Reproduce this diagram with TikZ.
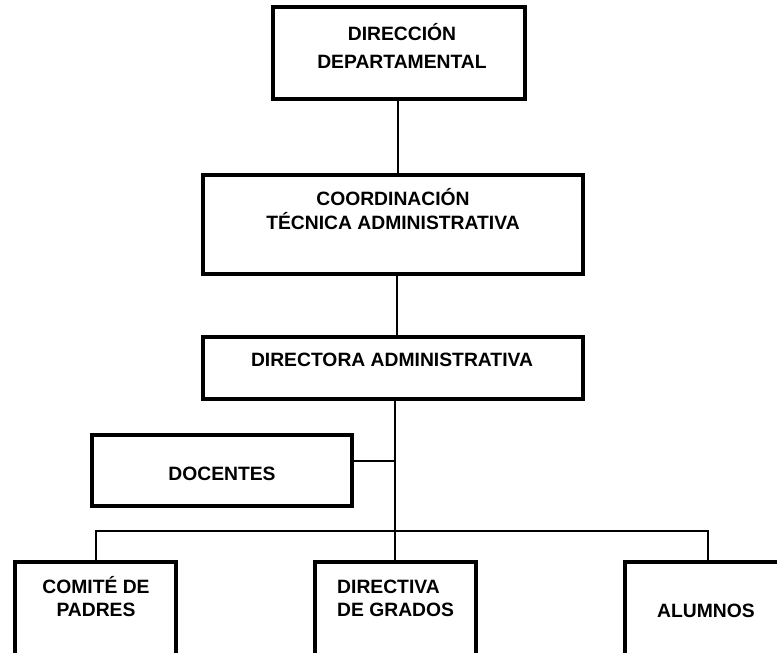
\documentclass[tikz,border=0pt]{standalone}
\usepackage{fontspec}
\setmainfont{Liberation Sans}
\begin{document}
\begin{tikzpicture}[x=1pt,y=-1pt,
  box/.style={draw=black, line width=3.1pt, fill=white, rectangle, inner sep=0pt, outer sep=0pt},
  conn/.style={draw=black, line width=2.5pt},
  lbl/.style={font=\fontsize{19.3}{23}\selectfont\bfseries, inner sep=0pt, anchor=base}]
\useasboundingbox (0,0) rectangle (777,653);
\fill[white] (0,0) rectangle (777,653);
\clip (0,0) rectangle (777,653);
% boxes
\node[box, minimum width=252pt, minimum height=92pt] (b1) at (399,53) {};
\node[box, minimum width=380pt, minimum height=99pt] (b2) at (393,224.5) {};
\node[box, minimum width=380pt, minimum height=62pt] (b3) at (393,368) {};
\node[box, minimum width=260pt, minimum height=71pt] (b4) at (222,470.5) {};
\node[box, minimum width=161pt, minimum height=140pt] (b6) at (95.5,632) {};
\node[box, minimum width=161pt, minimum height=140pt] (b5) at (395.5,632) {};
\node[box, minimum width=180pt, minimum height=140pt] (b7) at (715,632) {};
% texts
\node[lbl] (t1a) at (402,40) {DIRECCIÓN};
\node[lbl] (t1b) at (402,68) {DEPARTAMENTAL};
\node[lbl] (t2a) at (393,205) {COORDINACIÓN};
\node[lbl] (t2b) at (393,229) {TÉCNICA ADMINISTRATIVA};
\node[lbl] (t3) at (392,366) {DIRECTORA ADMINISTRATIVA};
\node[lbl] (t4) at (222,480) {DOCENTES};
\node[lbl] (t6a) at (96,593) {COMITÉ DE};
\node[lbl] (t6b) at (96,616) {PADRES};
\node[lbl, anchor=base west] (t5a) at (337,593) {DIRECTIVA};
\node[lbl, anchor=base west] (t5b) at (337,616) {DE GRADOS};
\node[lbl] (t7) at (706,617) {ALUMNOS};
% connector coordinates
\coordinate (s1) at (398,0);
\coordinate (s2) at (397,0);
\coordinate (sp) at (395,0);
\coordinate (dj) at (395,461);
\coordinate (busL) at (96,531);
\coordinate (busR) at (708,531);
% connectors
\draw[conn] (b1.south -| s1) -- (b2.north -| s1);
\draw[conn] (b2.south -| s2) -- (b3.north -| s2);
\draw[conn] (b3.south -| sp) -- (b5.north -| sp);
\draw[conn] (b4.east |- dj) -- (dj);
\draw[conn] (b6.north -| busL) -- (busL) -- (busR) -- (b7.north -| busR);
\end{tikzpicture}
\end{document}
